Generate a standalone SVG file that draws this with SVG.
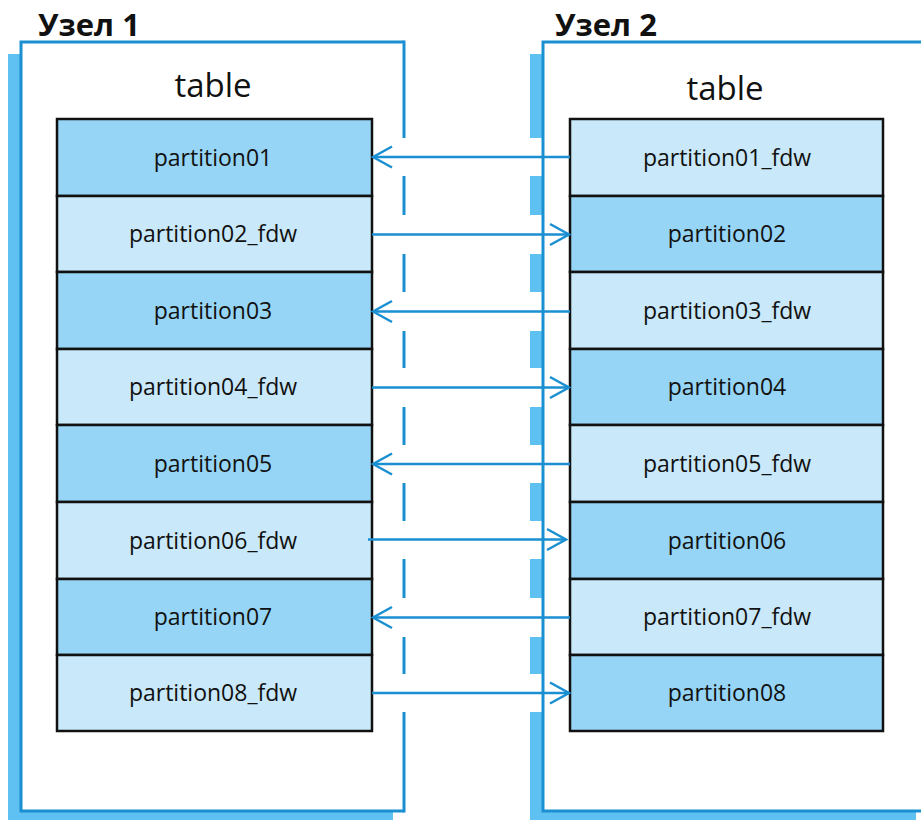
<svg xmlns="http://www.w3.org/2000/svg" width="921" height="820" viewBox="0 0 921 820">
<defs>
<style>
.shadow{fill:#5fc0f2}
.frame{fill:none;stroke:#1a8fd2;stroke-width:3}
.title{font-family:"Open Sans","Liberation Sans",sans-serif;font-weight:bold;font-size:31px;fill:#111}
.tbl{font-family:"Open Sans","Liberation Sans",sans-serif;font-size:33px;fill:#111;text-anchor:middle}
.cell{stroke:#111;stroke-width:2.5}
.dark{fill:#96d5f5}
.light{fill:#c9e8f9}
.lbl{font-family:"Open Sans","Liberation Sans",sans-serif;font-size:23px;fill:#111;text-anchor:middle}
.arr{stroke:#1a8fd2;stroke-width:2.5;fill:none;marker-end:url(#ah)}
</style>
<marker id="ah" markerUnits="userSpaceOnUse" markerWidth="24" markerHeight="26" viewBox="-21 -13 23 26" refX="0" refY="0" orient="auto">
<path d="M-19,-10.5 L0,0 L-19,10.5" fill="none" stroke="#1a8fd2" stroke-width="2.5"/>
</marker>
</defs>

<g id="node1">
<rect class="shadow" x="8" y="54" width="385" height="770"/>
<rect x="21" y="42" width="383" height="769" fill="#fff"/>
<path class="frame" d="M404,42 H21 V811 H404"/>
<path class="frame" d="M404,40.5 V138 M404,176 V215 M404,254 V292 M404,331 V368 M404,407 V445 M404,483 V521 M404,559 V598 M404,637 V674 M404,712 V812.5"/>
<text class="title" x="38" y="36">Узел 1</text>
<text class="tbl" x="213" y="97">table</text>
<g id="n1-p01"><rect class="cell dark" x="57" y="119" width="315" height="77"/><text class="lbl" x="213" y="166">partition01</text></g>
<g id="n1-p02"><rect class="cell light" x="57" y="196" width="315" height="76"/><text class="lbl" x="213" y="242">partition02_fdw</text></g>
<g id="n1-p03"><rect class="cell dark" x="57" y="272" width="315" height="77"/><text class="lbl" x="213" y="319">partition03</text></g>
<g id="n1-p04"><rect class="cell light" x="57" y="349" width="315" height="76"/><text class="lbl" x="213" y="395">partition04_fdw</text></g>
<g id="n1-p05"><rect class="cell dark" x="57" y="425" width="315" height="77"/><text class="lbl" x="213" y="472">partition05</text></g>
<g id="n1-p06"><rect class="cell light" x="57" y="502" width="315" height="77"/><text class="lbl" x="213" y="549">partition06_fdw</text></g>
<g id="n1-p07"><rect class="cell dark" x="57" y="579" width="315" height="76"/><text class="lbl" x="213" y="625">partition07</text></g>
<g id="n1-p08"><rect class="cell light" x="57" y="655" width="315" height="76"/><text class="lbl" x="213" y="701">partition08_fdw</text></g>
</g>

<g id="node2">
<rect class="shadow" x="530" y="811" width="386" height="12"/>
<path class="shadow" d="M530,54 H543 V138 H530Z M530,176 H543 V215 H530Z M530,254 H543 V292 H530Z M530,331 H543 V368 H530Z M530,407 H543 V445 H530Z M530,483 H543 V521 H530Z M530,559 H543 V598 H530Z M530,637 H543 V674 H530Z M530,712 H543 V812 H530Z"/>
<rect x="543" y="42" width="400" height="769" fill="#fff"/>
<path class="frame" d="M930,42 H543 V811 H930"/>
<text class="title" x="555" y="36">Узел 2</text>
<text class="tbl" x="725" y="100">table</text>
<g id="n2-p01"><rect class="cell light" x="570" y="119" width="313" height="77"/><text class="lbl" x="727" y="166">partition01_fdw</text></g>
<g id="n2-p02"><rect class="cell dark" x="570" y="196" width="313" height="76"/><text class="lbl" x="727" y="242">partition02</text></g>
<g id="n2-p03"><rect class="cell light" x="570" y="272" width="313" height="77"/><text class="lbl" x="727" y="319">partition03_fdw</text></g>
<g id="n2-p04"><rect class="cell dark" x="570" y="349" width="313" height="76"/><text class="lbl" x="727" y="395">partition04</text></g>
<g id="n2-p05"><rect class="cell light" x="570" y="425" width="313" height="77"/><text class="lbl" x="727" y="472">partition05_fdw</text></g>
<g id="n2-p06"><rect class="cell dark" x="570" y="502" width="313" height="77"/><text class="lbl" x="727" y="549">partition06</text></g>
<g id="n2-p07"><rect class="cell light" x="570" y="579" width="313" height="76"/><text class="lbl" x="727" y="625">partition07_fdw</text></g>
<g id="n2-p08"><rect class="cell dark" x="570" y="655" width="313" height="76"/><text class="lbl" x="727" y="701">partition08</text></g>
</g>

<g id="connectors">
<line class="arr" x1="570" y1="157" x2="373" y2="157"/>
<line class="arr" x1="372" y1="234.5" x2="569" y2="234.5"/>
<line class="arr" x1="570" y1="311.5" x2="373" y2="311.5"/>
<line class="arr" x1="372" y1="387.5" x2="569" y2="387.5"/>
<line class="arr" x1="570" y1="464" x2="373" y2="464"/>
<line class="arr" x1="368" y1="539.5" x2="566" y2="539.5"/>
<line class="arr" x1="570" y1="617.5" x2="373" y2="617.5"/>
<line class="arr" x1="372" y1="693" x2="569" y2="693"/>
</g>
</svg>
